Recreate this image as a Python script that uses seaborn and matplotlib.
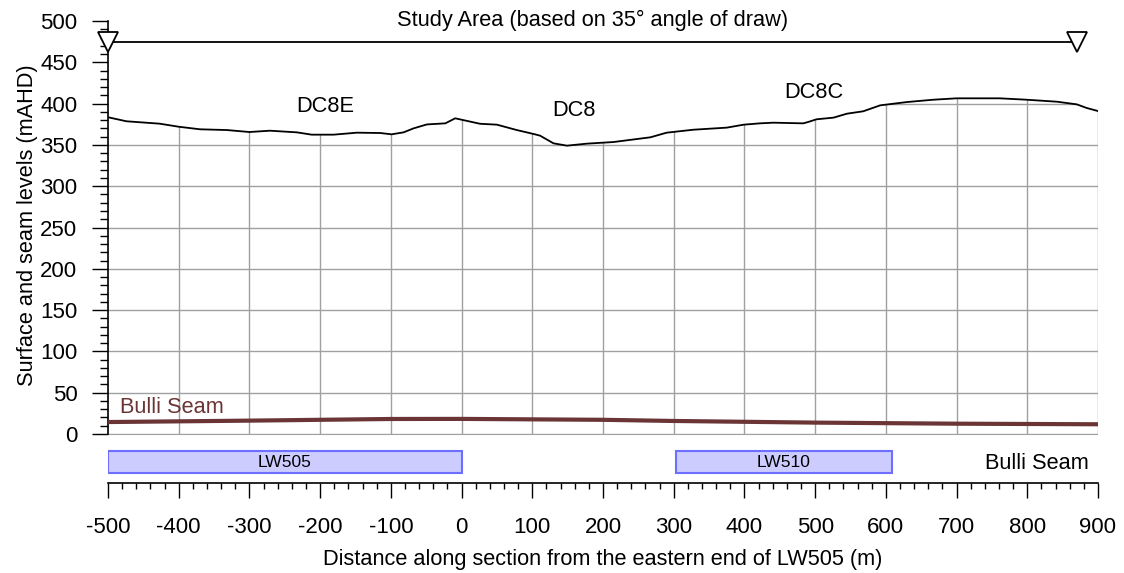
import numpy as np
import pandas as pd
import matplotlib
matplotlib.use("Agg")
import matplotlib.pyplot as plt
import seaborn as sns
from matplotlib.patches import Polygon, Rectangle
from matplotlib.ticker import FixedLocator

# ---------------- data ----------------
surface_x = [-500, -474, -427, -400, -370, -332, -300, -271, -233, -212, -181, -148,
             -115, -99, -82, -68, -49, -23, -9, 0, 26, 50, 78, 102, 111, 130, 149,
             177, 215, 267, 290, 328, 375, 399, 422, 441, 483, 490, 502, 526, 545,
             568, 592, 630, 667, 700, 761, 799, 842, 870, 884, 900]
surface_y = [383.5, 378.6, 375.7, 372.0, 368.9, 368.0, 365.6, 367.2, 365.2, 362.4, 362.4, 364.8,
             364.4, 362.8, 365.2, 370.0, 374.8, 376.1, 382.2, 380.5, 375.6, 374.5, 368.0, 363.2, 361.2, 351.9, 349.1,
             351.5, 353.5, 359.2, 364.8, 368.4, 370.9, 374.5, 376.1, 376.9, 376.1, 377.7, 381.0, 383.0, 387.8,
             390.7, 397.9, 401.9, 404.7, 406.4, 406.4, 404.7, 402.3, 399.1, 394.7, 391.0]

seam_x = [-500, -300, -100, 0, 200, 300, 500, 700, 900]
seam_y = [14.5, 16.2, 18.2, 18.3, 17.2, 15.8, 13.8, 12.5, 11.8]

panel_names = ["LW505", "LW510"]
panel_start = [-500, 303]
panel_end = [0, 608]

study_area_x = [-500, 870]
study_area_level = 475
study_area_label = "Study Area (based on 35° angle of draw)"

feature_names = ["DC8E", "DC8", "DC8C"]
feature_x = [-193, 159, 498]
feature_y = [396, 392, 414]

grid_x = list(range(-400, 901, 100))
grid_y = list(range(0, 451, 50))

# ---------------- style ----------------
sns.set_style("white")
plt.rcParams['font.family'] = ['Liberation Sans', 'DejaVu Sans']
plt.rcParams['axes.unicode_minus'] = False
plt.rcParams['text.color'] = 'black'
plt.rcParams['axes.labelcolor'] = 'black'
plt.rcParams['xtick.color'] = 'black'
plt.rcParams['ytick.color'] = 'black'

FS = 15.7
TICK_FS = 16
SEAM_COLOR = '#6b3535'
GRID_COLOR = '#a0a0a0'

fig = plt.figure(figsize=(11.24, 5.73), dpi=100)
ax = fig.add_axes([108 / 1124, 90 / 573, 990 / 1124, 462 / 573])
ax.set_xlim(-500, 900)
ax.set_ylim(-59.3, 500)

# grid clipped beneath ground surface
clip_verts = list(zip(surface_x, surface_y)) + [(905, surface_y[-1]), (905, -1.5), (-505, -1.5), (-505, surface_y[0])]
clip_poly = Polygon(clip_verts, closed=True, transform=ax.transData, facecolor='none', edgecolor='none')
ax.add_patch(clip_poly)
vl = ax.vlines(grid_x, 0, 500, colors=GRID_COLOR, lw=1.0, zorder=0.5)
vl.set_clip_path(clip_poly)
hl = ax.hlines(grid_y, -500, 900, colors=GRID_COLOR, lw=1.0, zorder=0.5)
hl.set_clip_path(clip_poly)

# surface and seam
surf_df = pd.DataFrame({"x": surface_x, "y": surface_y})
seam_df = pd.DataFrame({"x": seam_x, "y": seam_y})
sns.lineplot(data=surf_df, x="x", y="y", ax=ax, color='black', lw=1.3, estimator=None, sort=False, zorder=3)
sns.lineplot(data=seam_df, x="x", y="y", ax=ax, color=SEAM_COLOR, lw=3.0, estimator=None, sort=False, zorder=3)

# study area
ax.plot(study_area_x, [study_area_level] * 2, color='black', lw=1.3, zorder=4, clip_on=False)
ax.plot(study_area_x, [study_area_level] * 2, ls='none', marker='v', ms=14.5, mfc='white',
        mec='black', mew=1.3, zorder=5, clip_on=False)
ax.text(np.mean(study_area_x), 500.5, study_area_label, ha='center', va='center', fontsize=FS)

for name, fx, fy in zip(feature_names, feature_x, feature_y):
    ax.text(fx, fy, name, ha='center', va='center', fontsize=FS)

ax.text(-483, 32.7, "Bulli Seam", ha='left', va='center', fontsize=FS, color=SEAM_COLOR)

# longwall panels
for name, s, e in zip(panel_names, panel_start, panel_end):
    ax.add_patch(Rectangle((s, -47.6), e - s, 27.0, facecolor='#ccccff', edgecolor='#6e6eff', lw=1.5, zorder=3))
    ax.text((s + e) / 2, -34, name, ha='center', va='center', fontsize=12.5, zorder=4)
ax.text(814, -36, "Bulli Seam", ha='center', va='center', fontsize=FS)

# spines and ticks
for sp in ['top', 'right']:
    ax.spines[sp].set_visible(False)
ax.spines['left'].set_bounds(0, 500)
ax.spines['bottom'].set_bounds(-500, 900)
for sp in ['left', 'bottom']:
    ax.spines[sp].set_color('black')
    ax.spines[sp].set_linewidth(1.2)

ax.yaxis.set_major_locator(FixedLocator(list(range(0, 501, 50))))
ax.yaxis.set_minor_locator(FixedLocator(list(range(0, 501, 10))))
ax.xaxis.set_major_locator(FixedLocator(list(range(-500, 901, 100))))
ax.xaxis.set_minor_locator(FixedLocator(list(range(-500, 901, 20))))
ax.tick_params(axis='y', which='major', direction='out', length=11.5, width=1.0, pad=10.5, labelsize=TICK_FS, left=True, color='black')
ax.tick_params(axis='y', which='minor', direction='out', length=5.8, width=1.0, left=True, color='black')
ax.tick_params(axis='x', which='major', direction='out', length=10.8, width=1.0, pad=14, labelsize=TICK_FS, bottom=True, color='black')
ax.tick_params(axis='x', which='minor', direction='out', length=4.3, width=1.0, bottom=True, color='black')

ax.set_xlabel("Distance along section from the eastern end of LW505 (m)", fontsize=FS)
ax.set_ylabel("Surface and seam levels (mAHD)", fontsize=FS)
ax.xaxis.set_label_coords(0.5, -0.143)
ax.yaxis.set_label_coords(-0.071, 0.558)

fig.savefig("out.png", dpi=100)
